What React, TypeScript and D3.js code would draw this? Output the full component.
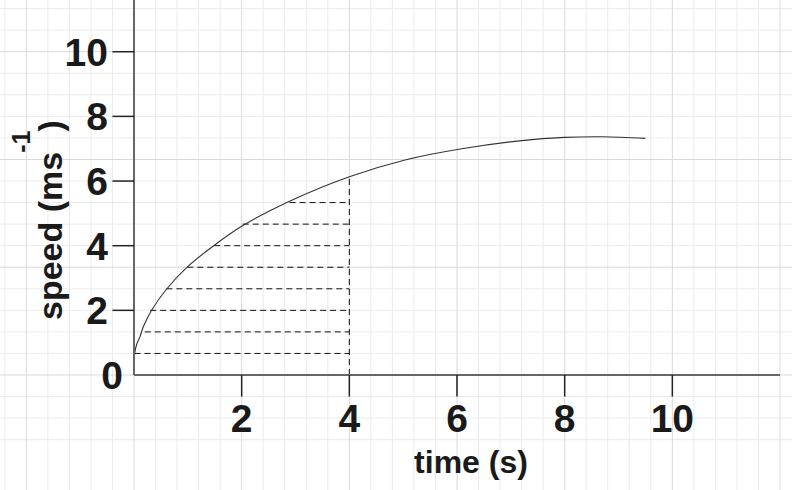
import React from "react";
import * as d3 from "d3";

const W = 792;
const H = 490;

// curve data (time s, speed m/s)
const curveTime = [0, 0.003, 0.013, 0.05, 0.11, 0.173, 0.33, 0.607, 0.997, 1.505, 2.03, 2.9, 4.0, 5.07, 6.06, 7.2, 8.0, 8.7, 9.5];
const curveSpeed = [0, 0.35, 0.667, 0.95, 1.18, 1.49, 2.01, 2.66, 3.35, 4.03, 4.63, 5.38, 6.13, 6.665, 6.99, 7.25, 7.35, 7.37, 7.32];

// dashed strips (speed level, start time); all end at t = 4
const stripLevels = [2 / 3, 4 / 3, 2, 8 / 3, 10 / 3, 4, 14 / 3, 16 / 3];
const stripStarts = [0.01, 0.2, 0.3, 0.6, 0.99, 1.49, 2.02, 2.89];
const stripEnd = 4;
const stripTopSpeed = 6.13;

const xTicks = [2, 4, 6, 8, 10];
const yTicks = [2, 4, 6, 8, 10];

const FONT = "'Liberation Sans', Arial, sans-serif";

export default function App() {
  const x = d3.scaleLinear().domain([0, 12]).range([134, 780]);
  const y = d3.scaleLinear().domain([0, 11.6]).range([375, 0]);

  const gridX = d3.range(-6, 33).map((k) => ({ v: k * 0.4, major: k % 5 === 0 }));
  const gridY = d3.range(-3, 19).map((k) => ({ v: (k * 2) / 3, major: k % 5 === 0 }));

  const pts = curveTime.map((t, i) => [t, curveSpeed[i]] as [number, number]);
  const line = d3
    .line<[number, number]>()
    .x((d) => x(d[0]))
    .y((d) => y(d[1]))
    .curve(d3.curveCatmullRom.alpha(0.5));

  const tickLen = x(0.4) - x(0);

  return (
    <svg
      width={W}
      height={H}
      style={{ position: "absolute", left: 0, top: 0, background: "#fff" }}
    >
      <rect x={0} y={0} width={W} height={H} fill="#fff" />
      {/* grid */}
      <g>
        {gridX.filter((g) => !g.major).map((g, i) => (
          <line key={"gx" + i} x1={x(g.v)} x2={x(g.v)} y1={0} y2={H} stroke="#ebebeb" strokeWidth={1} />
        ))}
        {gridY.filter((g) => !g.major).map((g, i) => (
          <line key={"gy" + i} x1={0} x2={W} y1={y(g.v)} y2={y(g.v)} stroke="#ebebeb" strokeWidth={1} />
        ))}
        {gridX.filter((g) => g.major).map((g, i) => (
          <line key={"gxm" + i} x1={x(g.v)} x2={x(g.v)} y1={0} y2={H} stroke="#d9d9d9" strokeWidth={1} />
        ))}
        {gridY.filter((g) => g.major).map((g, i) => (
          <line key={"gym" + i} x1={0} x2={W} y1={y(g.v)} y2={y(g.v)} stroke="#d9d9d9" strokeWidth={1} />
        ))}
      </g>

      {/* dashed strips */}
      <g stroke="#111" strokeWidth={1} strokeDasharray="6,4" fill="none">
        {stripLevels.map((lv, i) => (
          <line key={"s" + i} x1={x(stripStarts[i])} x2={x(stripEnd)} y1={y(lv)} y2={y(lv)} />
        ))}
        <line x1={x(stripEnd)} x2={x(stripEnd)} y1={y(0)} y2={y(stripTopSpeed)} />
      </g>

      {/* curve */}
      <path d={line(pts) || ""} fill="none" stroke="#333" strokeWidth={1.1} />

      {/* axes */}
      <line x1={x(0)} x2={x(12)} y1={y(0)} y2={y(0)} stroke="#666" strokeWidth={2} />
      <line x1={x(0)} x2={x(0)} y1={y(0)} y2={0} stroke="#666" strokeWidth={2} />
      {xTicks.map((t) => (
        <g key={"xt" + t}>
          <line x1={x(t)} x2={x(t)} y1={y(0)} y2={y(0) + tickLen} stroke="#222" strokeWidth={1.5} />
          <text
            x={x(t)}
            y={432}
            textAnchor="middle"
            fontFamily={FONT}
            fontWeight="bold"
            fontSize={39}
            fill="#1a1a1a"
          >
            {t}
          </text>
        </g>
      ))}
      {yTicks.map((t) => (
        <g key={"yt" + t}>
          <line x1={x(0) - tickLen} x2={x(0)} y1={y(t)} y2={y(t)} stroke="#222" strokeWidth={1.5} />
          <text
            x={108}
            y={y(t)}
            dy="0.36em"
            textAnchor="end"
            fontFamily={FONT}
            fontWeight="bold"
            fontSize={39}
            fill="#1a1a1a"
          >
            {t}
          </text>
        </g>
      ))}
      <text
        x={112}
        y={y(0)}
        dy="0.36em"
        textAnchor="middle"
        fontFamily={FONT}
        fontWeight="bold"
        fontSize={39}
        fill="#1a1a1a"
      >
        0
      </text>

      {/* axis titles */}
      <text
        x={471}
        y={473}
        textAnchor="middle"
        fontFamily={FONT}
        fontWeight="bold"
        fontSize={32}
        fill="#1a1a1a"
      >
        time (s)
      </text>
      <text
        transform="translate(62,320) rotate(-90)"
        fontFamily={FONT}
        fontWeight="bold"
        fontSize={34}
        fill="#1a1a1a"
      >
        speed (ms
        <tspan fontSize={25} dy={-32} dx={-1}>-1</tspan>
        <tspan dy={32} dx={-1}>)</tspan>
      </text>
    </svg>
  );
}
